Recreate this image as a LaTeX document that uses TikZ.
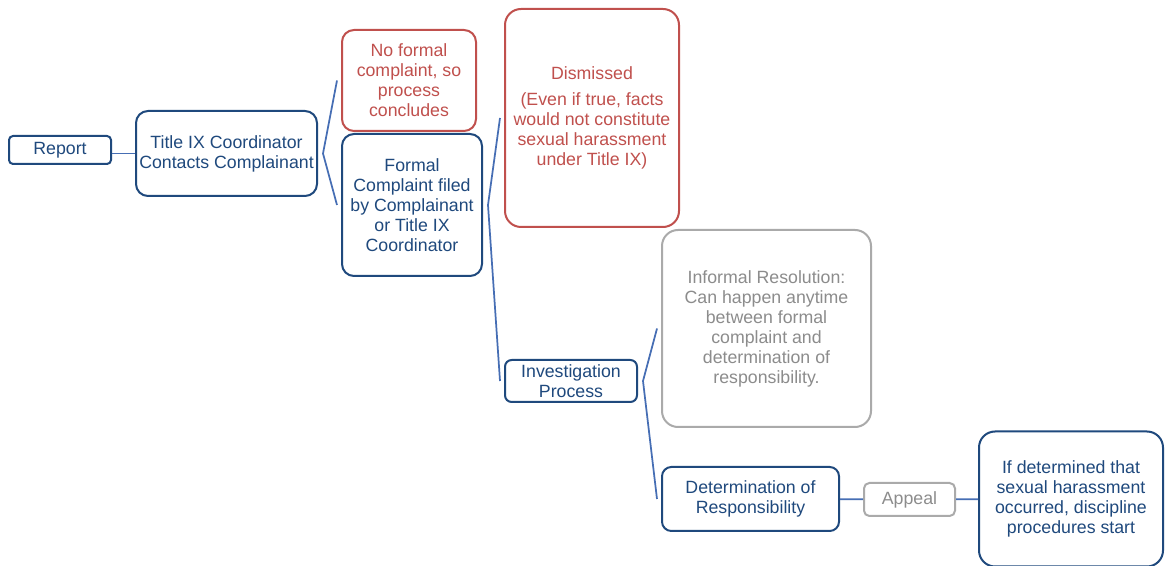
\documentclass[tikz,border=0pt]{standalone}
\usepackage{fontspec}
\setmainfont{Liberation Sans}
\usepackage{tikz}
\usetikzlibrary{positioning, calc}

\definecolor{navy}{RGB}{31,73,125}
\definecolor{steel}{RGB}{70,110,180}
\definecolor{brick}{RGB}{192,80,77}
\definecolor{ashline}{RGB}{170,170,170}
\definecolor{ashtext}{RGB}{140,140,140}

\begin{document}
\begin{tikzpicture}[x=0.75pt, y=-0.75pt,
	box/.style={draw=navy, text=navy, line width=1.5pt, align=center, inner sep=0pt,
		font=\fontsize{13.3}{15}\selectfont},
	redbox/.style={box, draw=brick, text=brick},
	greybox/.style={box, draw=ashline, text=ashtext},
	link/.style={draw=steel, line width=1.3pt}]

			\useasboundingbox[fill=white] (0,0) rectangle (1165,566);

			% first column
			\node [box, minimum width=76.5pt, minimum height=21pt, rounded corners=3pt] (report) at (60,150) {Report};
			\node [box, minimum width=135.75pt, minimum height=63.75pt, rounded corners=9pt] (coord) at (226.5,153.5) {Title IX Coordinator\\Contacts Complainant};

			% complaint or not
			\node [redbox, minimum width=100.5pt, minimum height=75.75pt, rounded corners=9pt] (noformal) at (409,80.5) {No formal\\complaint, so\\process\\concludes};
			\node [box, minimum width=105pt, minimum height=106.5pt, rounded corners=9pt] (formal) at (412,205) {Formal\\Complaint filed\\by Complainant\\or Title IX\\Coordinator};

			% dismissal or investigation
			\node [redbox, minimum width=130.5pt, minimum height=163.5pt, rounded corners=12pt] (dismissed) at (592,118) {Dismissed\\[5pt](Even if true, facts\\would not constitute\\sexual harassment\\under Title IX)};
			\node [box, minimum width=99pt, minimum height=31.5pt, rounded corners=5pt] (invest) at (571,381) {Investigation\\Process};

			% outcomes
			\node [greybox, minimum width=156.75pt, minimum height=147.75pt, rounded corners=12pt] (informal) at (766.5,328.5) {Informal Resolution:\\Can happen anytime\\between formal\\complaint and\\determination of\\responsibility.};
			\node [box, minimum width=132.75pt, minimum height=48pt, rounded corners=7pt] (determ) at (750.5,499) {Determination of\\Responsibility};
			\node [greybox, minimum width=68.25pt, minimum height=24.75pt, rounded corners=4pt] (appeal) at (909.5,499.5) {Appeal};
			\node [box, minimum width=138pt, minimum height=101.25pt, rounded corners=12pt] (discipline) at (1071,499) {If determined that\\sexual harassment\\occurred, discipline\\procedures start};

			% connectors
			\draw [link] (report.east |- coord.west) -- (coord.west);

			\foreach \parent/\upper/\lower in {coord/noformal/formal, formal/dismissed/invest, invest/informal/determ}
			{
				\coordinate (fork-\parent) at ([xshift=3.75pt]\parent.east);
				\draw [link] ([xshift=-3pt]\upper.west) -- (fork-\parent) -- ([xshift=-3pt]\lower.west);
			}

			\draw [link] (determ) -- (appeal);
			\draw [link] (appeal) -- (discipline);
			\end{tikzpicture}
\end{document}
